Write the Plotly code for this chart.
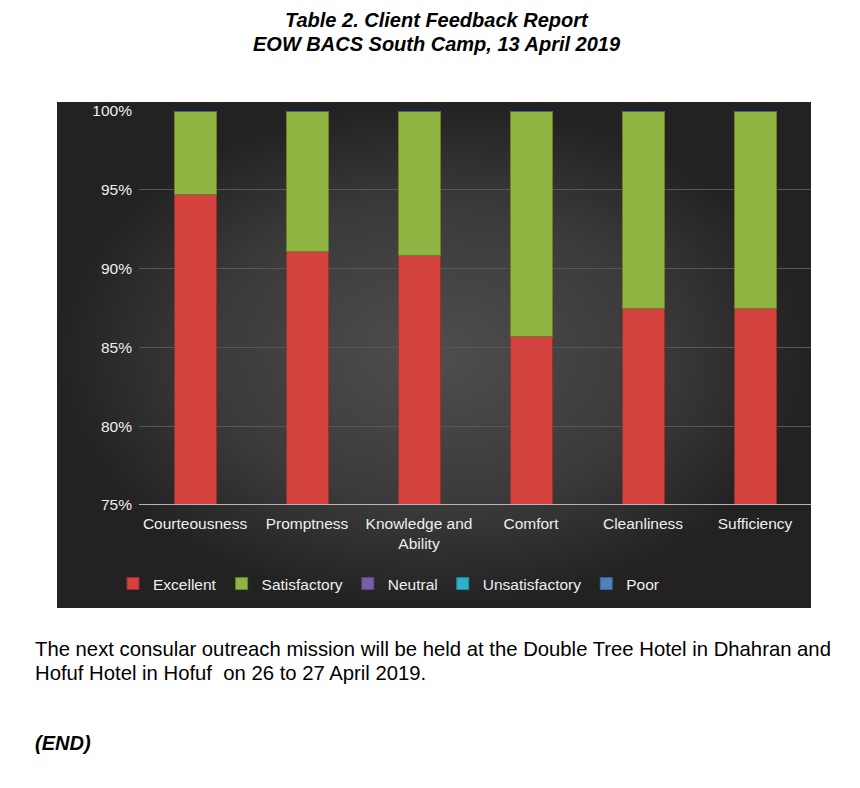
import plotly.graph_objects as go

categories = ["Courteousness", "Promptness", "Knowledge and<br>Ability", "Comfort", "Cleanliness", "Sufficiency"]
excellent = [94.7, 91.1, 90.8, 85.7, 87.5, 87.5]
satisfactory = [5.3, 8.9, 9.2, 14.3, 12.5, 12.5]
neutral = [0, 0, 0, 0, 0, 0]
unsatisfactory = [0, 0, 0, 0, 0, 0]
poor = [0, 0, 0, 0, 0, 0]
y_ticks = [75, 80, 85, 90, 95, 100]
y_tick_labels = ["75%", "80%", "85%", "90%", "95%", "100%"]

W, H = 860, 788
FONT = "Liberation Sans, Arial, sans-serif"


def py(v):
    return (H - v) / H


fig = go.Figure()

# dark chart panel with radial gradient (drawn on a hidden full-page axis)
px0, px1, py0, py1 = 57, 811, 102, 608
fig.add_trace(go.Scatter(
    x=[px0, px1, px1, px0, px0], y=[py0, py0, py1, py1, py0],
    mode="lines", fill="toself", line=dict(width=0, color="#2a2a2a"),
    fillgradient=dict(type="radial", colorscale=[[0, "#4e4e4e"], [0.6, "#3a3a3a"], [1, "#222222"]]),
    hoverinfo="skip", showlegend=False, xaxis="x", yaxis="y"))

series = [
    ("Excellent", excellent, "#d44240", "#9e2d2d"),
    ("Satisfactory", satisfactory, "#8fb441", "#65842a"),
    ("Neutral", neutral, "#7b5ca6", "#5e4680"),
    ("Unsatisfactory", unsatisfactory, "#2eafca", "#23869b"),
    ("Poor", poor, "#4f81bd", "#3c6390"),
]
for name, vals, col, lc in series:
    fig.add_trace(go.Bar(
        x=categories, y=vals, name=name, xaxis="x2", yaxis="y2",
        marker=dict(color=col, line=dict(color=lc, width=1)),
        width=0.375))

fig.update_layout(
    width=W, height=H, margin=dict(l=0, r=0, t=0, b=0, autoexpand=False),
    paper_bgcolor="white", plot_bgcolor="rgba(0,0,0,0)",
    barmode="stack",
    font=dict(family=FONT, color="#eeeeee", size=15.5),
    xaxis=dict(domain=[0, 1], range=[0, W], visible=False, fixedrange=True),
    yaxis=dict(domain=[0, 1], range=[H, 0], visible=False, fixedrange=True),
    xaxis2=dict(domain=[139 / W, 811 / W], anchor="y2", showgrid=False,
                showline=False, ticks="", tickfont=dict(size=15.5, color="#eeeeee"),
                ticklabelstandoff=7, fixedrange=True, automargin=False),
    yaxis2=dict(domain=[py(505), py(111)], anchor="x2",
                range=[75, 100], tickmode="array", tickvals=y_ticks, ticktext=y_tick_labels,
                showgrid=True, gridcolor="#575757", gridwidth=1,
                zeroline=False, showline=False, ticks="", ticklabelstandoff=6,
                tickfont=dict(size=15.5, color="#eeeeee"), fixedrange=True, automargin=False),
    legend=dict(orientation="h", x=113 / W, xanchor="left", y=py(584), yanchor="middle",
                font=dict(size=15.5, color="#eeeeee"), bgcolor="rgba(0,0,0,0)",
                traceorder="normal", itemwidth=30),
    showlegend=True,
)

# axis baseline at 75%
fig.add_shape(type="line", xref="x2 domain", yref="y2", x0=0, x1=1, y0=75, y1=75,
              line=dict(color="#b5b5b5", width=2))

text_items = [
    ("<b><i>Table 2. Client Feedback Report</i></b>", 437, 20, "center", 20),
    ("<b><i>EOW BACS South Camp, 13 April 2019</i></b>", 437, 44, "center", 20),
    ("The next consular outreach mission will be held at the Double Tree Hotel in Dhahran and", 33, 649, "left", 20.3),
    ("Hofuf Hotel in Hofuf \u00a0on 26 to 27 April 2019.", 33, 673, "left", 20.3),
    ("<b><i>(END)</i></b>", 33, 743, "left", 20),
]
for txt, x, y, anchor, size in text_items:
    fig.add_annotation(text=txt, xref="paper", yref="paper", x=x / W, y=py(y),
                       xanchor=anchor, yanchor="middle", showarrow=False, align=anchor,
                       font=dict(family=FONT, size=size, color="black"))

fig.write_html("out.html", config={"displayModeBar": False},
               post_script="document.body.style.margin='0';document.body.style.overflow='hidden';")
